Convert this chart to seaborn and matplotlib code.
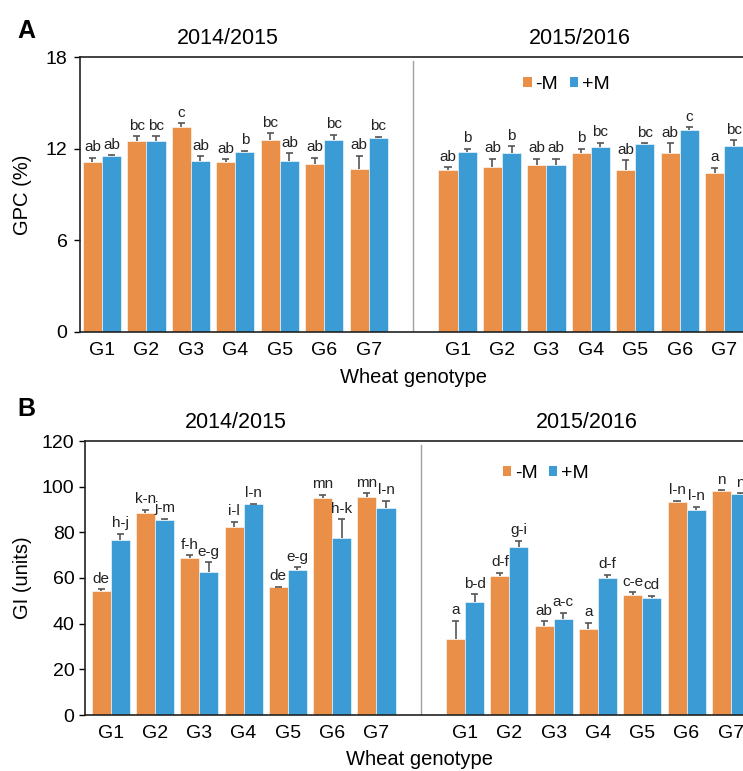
import pandas as pd
import matplotlib
matplotlib.use('Agg')
import matplotlib.pyplot as plt
import seaborn as sns
from matplotlib.patches import Patch

genotypes = ['G1', 'G2', 'G3', 'G4', 'G5', 'G6', 'G7']
seasons = ['2014/2015', '2015/2016']
treatments = ['-M', '+M']
colors = {'-M': '#E98F48', '+M': '#3A9BD5'}

# GPC (%) panel A
gpc_1415_minus = [11.1, 12.5, 13.4, 11.1, 12.6, 11.0, 10.7]
gpc_1415_minus_err = [0.3, 0.3, 0.25, 0.2, 0.4, 0.4, 0.85]
gpc_1415_minus_let = ['ab', 'bc', 'c', 'ab', 'bc', 'ab', 'ab']
gpc_1415_plus = [11.5, 12.5, 11.2, 11.8, 11.2, 12.6, 12.7]
gpc_1415_plus_err = [0.07, 0.3, 0.3, 0.07, 0.5, 0.3, 0.07]
gpc_1415_plus_let = ['ab', 'bc', 'ab', 'b', 'ab', 'bc', 'bc']
gpc_1516_minus = [10.6, 10.8, 10.9, 11.7, 10.6, 11.7, 10.4]
gpc_1516_minus_err = [0.2, 0.55, 0.45, 0.3, 0.65, 0.65, 0.35]
gpc_1516_minus_let = ['ab', 'ab', 'ab', 'b', 'ab', 'ab', 'a']
gpc_1516_plus = [11.8, 11.7, 10.9, 12.1, 12.3, 13.2, 12.2]
gpc_1516_plus_err = [0.2, 0.45, 0.45, 0.3, 0.05, 0.2, 0.35]
gpc_1516_plus_let = ['b', 'b', 'ab', 'bc', 'bc', 'c', 'bc']

# GI (units) panel B
gi_1415_minus = [54.5, 88.6, 68.7, 82.5, 56.0, 95.1, 95.6]
gi_1415_minus_err = [0.6, 1.2, 1.2, 2.2, 0.2, 1.3, 1.5]
gi_1415_minus_let = ['de', 'k-n', 'f-h', 'i-l', 'de', 'mn', 'mn']
gi_1415_plus = [76.8, 85.5, 62.7, 92.2, 63.4, 77.4, 90.6]
gi_1415_plus_err = [2.5, 0.4, 4.2, 0.4, 1.3, 8.4, 3.2]
gi_1415_plus_let = ['h-j', 'j-m', 'e-g', 'l-n', 'e-g', 'h-k', 'l-n']
gi_1516_minus = [33.2, 60.7, 39.1, 37.7, 52.4, 93.5, 97.9]
gi_1516_minus_err = [8.0, 1.7, 1.9, 2.8, 1.3, 0.3, 0.6]
gi_1516_minus_let = ['a', 'd-f', 'ab', 'a', 'c-e', 'l-n', 'n']
gi_1516_plus = [49.5, 73.7, 42.0, 59.8, 51.1, 90.0, 96.7]
gi_1516_plus_err = [3.3, 2.6, 2.8, 1.7, 1.2, 1.2, 0.4]
gi_1516_plus_let = ['b-d', 'g-i', 'a-c', 'd-f', 'cd', 'l-n', 'n']

slot_order = [f'{seasons[0]} {g}' for g in genotypes] + ['gap'] + [f'{seasons[1]} {g}' for g in genotypes]

plt.rcParams['font.family'] = ['Liberation Sans', 'DejaVu Sans']


def make_table(series):
    rows = []
    for (season, trt), (vals, errs, lets) in series.items():
        for g, v, e, l in zip(genotypes, vals, errs, lets):
            rows.append({'slot': f'{season} {g}', 'treatment': trt, 'value': v, 'err': e, 'letter': l})
    return pd.DataFrame(rows)


def draw_panel(ax, df, ylim, yticks, ylabel, leg_xy, xleft, ytick_pad, ylabel_x):
    sns.barplot(data=df, x='slot', y='value', hue='treatment', order=slot_order,
                hue_order=treatments, palette=colors, saturation=1, width=0.86,
                errorbar=None, legend=False, edgecolor='white', linewidth=0.4, ax=ax)
    cap = 0.08
    for trt, cont in zip(treatments, ax.containers):
        sub = df[df.treatment == trt].copy()
        sub['pos'] = sub.slot.map(slot_order.index)
        sub = sub.sort_values('pos')
        for bar, (_, row) in zip(cont, sub.iterrows()):
            x = bar.get_x() + bar.get_width() / 2
            top = bar.get_height()
            ax.vlines(x, top, top + row.err, color='#555555', lw=1.2, zorder=4)
            ax.hlines(top + row.err, x - cap, x + cap, color='#555555', lw=1.2, zorder=4)
            ax.annotate(row.letter, (x, top + row.err), xytext=(0, 2.5), textcoords='offset points',
                        ha='center', va='bottom', fontsize=11, color='#222222')
    ax.axvline(7, ymax=0.985, color='#a0a0a0', lw=1.0, zorder=0)
    ax.set_xlim(xleft, 14.5)
    ax.set_ylim(*ylim)
    ax.set_yticks(yticks)
    ax.set_xticks(range(len(slot_order)))
    ax.set_xticklabels(genotypes + [''] + genotypes)
    ax.tick_params(axis='x', length=0, pad=7, labelsize=14)
    ax.tick_params(axis='y', length=4.5, width=1, pad=ytick_pad, labelsize=14)
    for sp in ax.spines.values():
        sp.set_linewidth(1.2)
        sp.set_color('#222222')
    ax.set_ylabel(ylabel, fontsize=14.5)
    ax.yaxis.set_label_coords(ylabel_x, 0.5)
    ax.set_xlabel('Wheat genotype', fontsize=14.5)
    ax.xaxis.set_label_coords(0.5, -0.164)
    ax.xaxis.label.set_verticalalignment('center')
    for xc, season in zip([2.82, 10.75], seasons):
        ax.text(xc, 1.067, season, transform=ax.get_xaxis_transform(), ha='center',
                va='center', fontsize=15.5)
    handles = [Patch(facecolor=colors[t], label=t) for t in treatments]
    ax.legend(handles=handles, loc='center', bbox_to_anchor=leg_xy, ncol=2, frameon=False,
              fontsize=14, handlelength=0.42, handleheight=0.42, handletextpad=0.2,
              columnspacing=0.6)


gpc = make_table({
    (seasons[0], '-M'): (gpc_1415_minus, gpc_1415_minus_err, gpc_1415_minus_let),
    (seasons[0], '+M'): (gpc_1415_plus, gpc_1415_plus_err, gpc_1415_plus_let),
    (seasons[1], '-M'): (gpc_1516_minus, gpc_1516_minus_err, gpc_1516_minus_let),
    (seasons[1], '+M'): (gpc_1516_plus, gpc_1516_plus_err, gpc_1516_plus_let),
})
gi = make_table({
    (seasons[0], '-M'): (gi_1415_minus, gi_1415_minus_err, gi_1415_minus_let),
    (seasons[0], '+M'): (gi_1415_plus, gi_1415_plus_err, gi_1415_plus_let),
    (seasons[1], '-M'): (gi_1516_minus, gi_1516_minus_err, gi_1516_minus_let),
    (seasons[1], '+M'): (gi_1516_plus, gi_1516_plus_err, gi_1516_plus_let),
})

W, H = 743, 771
fig = plt.figure(figsize=(W / 100, H / 100), dpi=100)
axA = fig.add_axes([80 / W, 1 - 332 / H, 666.5 / W, 275 / H])
axB = fig.add_axes([85 / W, 1 - 715 / H, 668 / W, 274 / H])

draw_panel(axA, gpc, (0, 18), [0, 6, 12, 18], 'GPC (%)', (0.73, 0.9), -0.495, 4.5, -0.072)
draw_panel(axB, gi, (0, 120), [0, 20, 40, 60, 80, 100, 120], 'GI (units)', (0.69, 0.883), -0.58, 3, -0.08)

fig.text(17 / W, 1 - 19 / H, 'A', fontsize=18, fontweight='bold', va='top', ha='left')
fig.text(17 / W, 1 - 397 / H, 'B', fontsize=18, fontweight='bold', va='top', ha='left')

fig.savefig('out.png', dpi=100)
